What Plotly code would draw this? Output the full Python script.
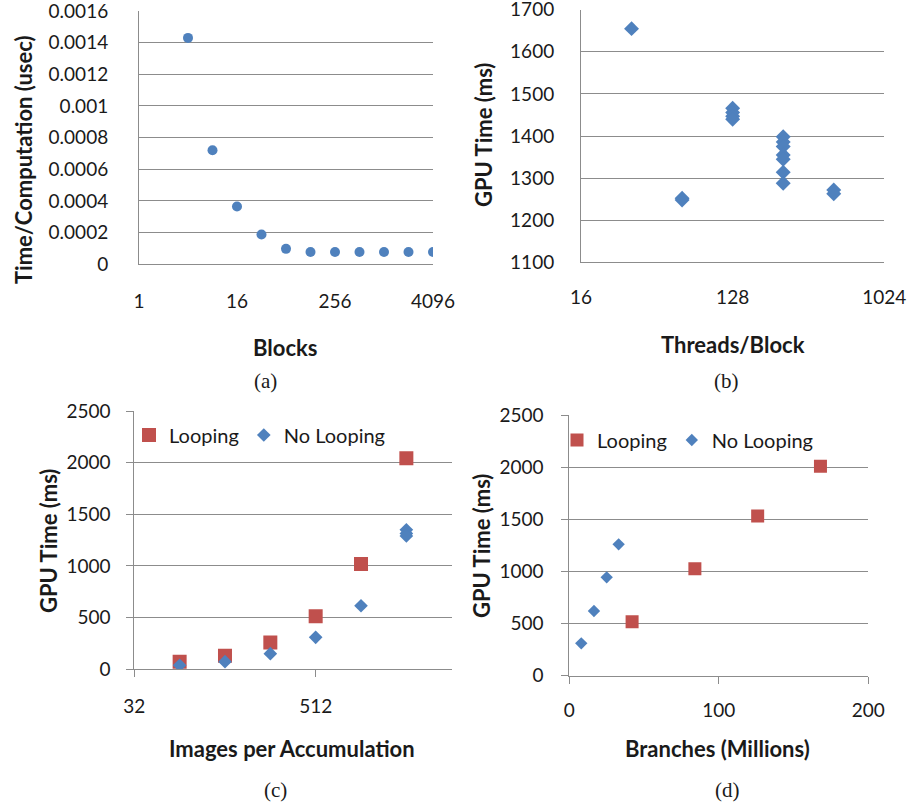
import math
import plotly.graph_objects as go

# ---------------- data ----------------
# (a) Blocks vs Time/Computation
blocks = [4, 8, 16, 32, 64, 128, 256, 512, 1024, 2048, 4096]
time_per_comp = [0.00143, 0.00072, 0.000365, 0.000188, 0.0000975, 0.000078,
                 0.000078, 0.000078, 0.000078, 0.000078, 0.000078]
a_xticks = [1, 16, 256, 4096]
a_yticks = [0, 0.0002, 0.0004, 0.0006, 0.0008, 0.001, 0.0012, 0.0014, 0.0016]
a_ytext = ["0", "0.0002", "0.0004", "0.0006", "0.0008", "0.001", "0.0012", "0.0014", "0.0016"]

# (b) Threads/Block vs GPU Time
threads = [32, 64, 64, 128, 128, 128, 128, 256, 256, 256, 256, 256, 256, 256, 512, 512]
b_gpu = [1655, 1248, 1252, 1466, 1456, 1447, 1440, 1398, 1386, 1375, 1355, 1345, 1314, 1288, 1272, 1263]
b_xticks = [16, 128, 1024]

# (c) Images per Accumulation
c_loop_x = [64, 128, 256, 512, 1024, 2048]
c_loop_y = [71, 129, 256, 511, 1019, 2044]
c_noloop_x = [64, 128, 256, 512, 1024, 2048, 2048, 2048]
c_noloop_y = [36, 71, 149, 307, 614, 1350, 1315, 1290]
c_xticks = [32, 512]

# (d) Branches (Millions)
d_loop_x = [42, 84, 126, 168]
d_loop_y = [518, 1026, 1531, 2008]
d_noloop_x = [8, 16.5, 25, 33]
d_noloop_y = [310, 620, 943, 1260]

BLUE = "#4F81BD"
RED = "#C0504D"
GRID = "#8C8C8C"
TXT = "#1a1a1a"
FONT = "Lato"

W, H = 911, 807


def fx(px):
    return px / W


def fy(py):
    return 1 - py / H


fig = go.Figure()

fig.add_trace(go.Scatter(x=blocks, y=time_per_comp, mode="markers", showlegend=False,
                         marker=dict(symbol="circle", size=10, color=BLUE, line=dict(width=0)),
                         xaxis="x", yaxis="y"))
fig.add_trace(go.Scatter(x=threads, y=b_gpu, mode="markers", showlegend=False,
                         marker=dict(symbol="diamond", size=11.5, color=BLUE, line=dict(width=0)),
                         xaxis="x2", yaxis="y2"))
fig.add_trace(go.Scatter(x=c_loop_x, y=c_loop_y, mode="markers", name="Looping", legend="legend",
                         marker=dict(symbol="square", size=14, color=RED, line=dict(width=0)),
                         xaxis="x3", yaxis="y3"))
fig.add_trace(go.Scatter(x=c_noloop_x, y=c_noloop_y, mode="markers", name="No Looping", legend="legend",
                         marker=dict(symbol="diamond", size=10.5, color=BLUE, line=dict(width=0)),
                         xaxis="x3", yaxis="y3"))
fig.add_trace(go.Scatter(x=d_loop_x, y=d_loop_y, mode="markers", name="Looping", legend="legend2",
                         marker=dict(symbol="square", size=13, color=RED, line=dict(width=0)),
                         xaxis="x4", yaxis="y4"))
fig.add_trace(go.Scatter(x=d_noloop_x, y=d_noloop_y, mode="markers", name="No Looping", legend="legend2",
                         marker=dict(symbol="diamond", size=9.5, color=BLUE, line=dict(width=0)),
                         xaxis="x4", yaxis="y4"))

tickfont = dict(family=FONT, size=19, color=TXT)


def xax(dom, anchor, **kw):
    d = dict(domain=[fx(dom[0]), fx(dom[1])], anchor=anchor, showgrid=False, zeroline=False,
             showline=True, linecolor=GRID, linewidth=1, tickfont=tickfont, automargin=False,
             ticklabeloverflow="allow")
    d.update(kw)
    return d


def yax(dom, anchor, **kw):
    d = dict(domain=[fy(dom[1]), fy(dom[0])], anchor=anchor, showgrid=True, gridcolor=GRID,
             gridwidth=1, zeroline=False, showline=True, linecolor=GRID, linewidth=1,
             tickfont=tickfont, automargin=False, ticklabeloverflow="allow")
    d.update(kw)
    return d


layout = dict(
    width=W, height=H, margin=dict(l=0, r=0, t=0, b=0, pad=0, autoexpand=False),
    paper_bgcolor="white", plot_bgcolor="white",
    font=dict(family=FONT, color=TXT),
    xaxis=xax((139, 433), "y", type="log", range=[0, math.log10(4096)],
              tickvals=a_xticks, ticktext=[str(v) for v in a_xticks], ticks="",
              ticklabelstandoff=20),
    yaxis=yax((11, 264.3), "x", range=[0, 0.0016], tickvals=a_yticks, ticktext=a_ytext,
              ticks="", ticklabelstandoff=26),
    xaxis2=xax((581, 884.3), "y2", type="log", range=[math.log10(16), math.log10(1024)],
               tickvals=b_xticks, ticktext=[str(v) for v in b_xticks], ticks="",
               ticklabelstandoff=18),
    yaxis2=yax((9.7, 262.3), "x2", range=[1100, 1700], dtick=100, ticks="",
               ticklabelstandoff=22),
    xaxis3=xax((134.3, 451.7), "y3", type="log", range=[math.log10(32), math.log10(4096)],
               tickvals=c_xticks, ticktext=[str(v) for v in c_xticks], ticks="outside",
               ticklen=7, tickcolor=GRID, ticklabelstandoff=13),
    yaxis3=yax((411.3, 669), "x3", range=[0, 2500], dtick=500, ticks="outside",
               ticklen=7, tickcolor=GRID, ticklabelstandoff=12),
    xaxis4=xax((569.3, 868.3), "y4", range=[0, 200], dtick=100, ticks="outside",
               ticklen=7, tickcolor=GRID, ticklabelstandoff=10),
    yaxis4=yax((415, 675.7), "x4", range=[0, 2500], dtick=500, ticks="outside",
               ticklen=7, tickcolor=GRID, ticklabelstandoff=14),
    legend=dict(orientation="h", x=fx(129), xanchor="left", y=fy(435), yanchor="middle",
                font=dict(family=FONT, size=20, color=TXT), bgcolor="rgba(0,0,0,0)",
                itemsizing="trace", tracegroupgap=0),
    legend2=dict(orientation="h", x=fx(557), xanchor="left", y=fy(440), yanchor="middle",
                 font=dict(family=FONT, size=20, color=TXT), bgcolor="rgba(0,0,0,0)",
                 itemsizing="trace", tracegroupgap=0),
)
fig.update_layout(**layout)

title_font = dict(family=FONT, size=22, color=TXT, weight="bold")
cap_font = dict(family="Liberation Serif", size=21, color=TXT)

annots = [
    # x-axis titles
    ("Blocks", 285, 347, 0, title_font),
    ("Threads/Block", 733, 345, 0, title_font),
    ("Images per Accumulation", 292, 748, 0, title_font),
    ("Branches (Millions)", 717, 748, 0, title_font),
    # y-axis titles
    ("Time/Computation (usec)", 23, 160, -90, title_font),
    ("GPU Time (ms)", 483, 135, -90, title_font),
    ("GPU Time (ms)", 48, 541, -90, title_font),
    ("GPU Time (ms)", 481, 546, -90, title_font),
    # captions
    ("(a)", 265, 381, 0, cap_font),
    ("(b)", 726, 381, 0, cap_font),
    ("(c)", 275, 790, 0, cap_font),
    ("(d)", 727, 790, 0, cap_font),
]
for text, px, py, ang, f in annots:
    fig.add_annotation(text=text, x=fx(px), y=fy(py), xref="paper", yref="paper",
                       xanchor="center", yanchor="middle", showarrow=False,
                       textangle=ang, font=f)

fig.write_html(
    "out.html",
    config={"displayModeBar": False},
    post_script="document.body.style.margin='0';document.body.style.overflow='hidden';",
)
